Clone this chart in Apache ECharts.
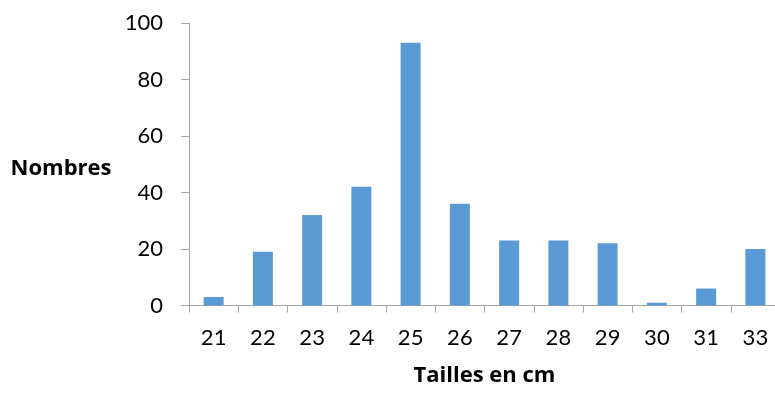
<!DOCTYPE html>
<html>
<head>
<meta charset="utf-8">
<script src="https://cdn.jsdelivr.net/npm/echarts@6/dist/echarts.min.js"></script>
<style>
html,body{margin:0;padding:0;background:#fff;overflow:hidden;}
#chart{width:775px;height:393px;}
</style>
</head>
<body>
<div id="chart"></div>
<script>
const categories = ['21','22','23','24','25','26','27','28','29','30','31','33'];
const counts = [3, 19, 32, 42, 93, 36, 23, 23, 22, 1, 6, 20];
const yTicks = {min: 0, max: 100, interval: 20};
const xTitle = 'Tailles en cm';
const yTitle = 'Nombres';

const FONT = 'Lato';
const TITLE_FONT = 'Open Sans';
const chart = echarts.init(document.getElementById('chart'), null, {renderer: 'canvas'});
chart.setOption({
  animation: false,
  grid: {left: 189, right: -5, top: 23, bottom: 87.5, containLabel: false, outerBoundsMode: 'none'},
  xAxis: {
    type: 'category',
    data: categories,
    boundaryGap: true,
    name: xTitle,
    nameLocation: 'middle',
    nameGap: 59,
    nameTextStyle: {fontFamily: TITLE_FONT, fontWeight: 'bold', fontSize: 22, color: '#000', verticalAlign: 'top'},
    axisLine: {lineStyle: {color: '#A6A6A6', width: 1}},
    axisTick: {show: true, alignWithLabel: false, length: 7, lineStyle: {color: '#A6A6A6'}},
    axisLabel: {fontFamily: FONT, fontSize: 22, color: '#000', margin: 21, interval: 0},
    splitLine: {show: false}
  },
  yAxis: {
    type: 'value',
    min: yTicks.min, max: yTicks.max, interval: yTicks.interval,
    name: yTitle,
    nameLocation: 'middle',
    nameRotate: 0,
    nameGap: 128,
    nameTextStyle: {fontFamily: TITLE_FONT, fontWeight: 'bold', fontSize: 22, color: '#000', align: 'center', verticalAlign: 'top', lineHeight: 8},
    axisLine: {show: true, lineStyle: {color: '#A6A6A6', width: 1}},
    axisTick: {show: true, length: 8, lineStyle: {color: '#A6A6A6'}},
    axisLabel: {fontFamily: FONT, fontSize: 22, color: '#000', margin: 26},
    splitLine: {show: false}
  },
  series: [{
    type: 'bar',
    data: counts,
    barWidth: 20,
    itemStyle: {color: '#5B9BD5'}
  }]
});
</script>
</body>
</html>
